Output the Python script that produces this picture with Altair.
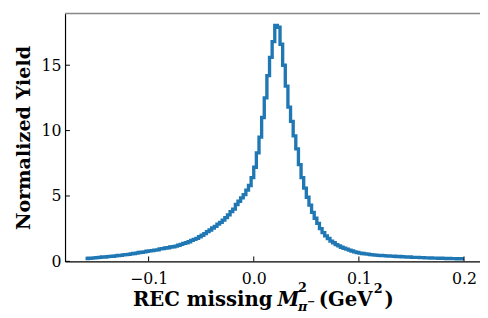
import altair as alt
import numpy as np
import pandas as pd

# Histogram: bin start, bin width and yields
bin_start = -0.16
bin_width = 0.0025
yields = [
    0.22, 0.24, 0.25, 0.27, 0.29,
    0.31, 0.33, 0.32, 0.36, 0.38, 0.39, 0.42, 0.45,
    0.46, 0.49, 0.52, 0.53, 0.57, 0.60, 0.63, 0.68,
    0.70, 0.72, 0.77, 0.80,
    0.82, 0.86, 0.88, 0.95,
    0.97, 1.02, 1.04, 1.10,
    1.12, 1.17, 1.23, 1.30,
    1.37, 1.42, 1.50, 1.60,
    1.68, 1.76, 1.88, 2.00,
    2.12, 2.27, 2.40, 2.55,
    2.68, 2.85, 2.98, 3.15,
    3.35, 3.55, 3.80, 4.00,
    4.35, 4.60, 4.85, 5.10,
    5.45, 5.80, 6.40, 7.20,
    8.30, 9.50, 11.0, 12.5,
    14.2, 15.6, 16.8, 18.05,
    17.9, 16.6, 15.0, 13.4,
    11.8, 10.7, 9.6, 8.6,
    7.4, 6.4, 5.6, 4.9,
    4.3, 3.75, 3.3, 2.9,
    2.5, 2.2, 1.95, 1.75,
    1.55, 1.42, 1.28, 1.18,
    1.08, 1.0, 0.93, 0.86,
    0.79, 0.72, 0.68, 0.63,
    0.60, 0.57, 0.55, 0.52,
    0.50, 0.48, 0.46, 0.45,
    0.44, 0.42, 0.41, 0.40,
    0.39, 0.37, 0.37, 0.35,
    0.34, 0.33, 0.33, 0.31,
    0.30, 0.30, 0.29, 0.28,
    0.27, 0.27, 0.26, 0.25,
    0.25, 0.24, 0.24, 0.23,
    0.22, 0.22, 0.21, 0.21,
    0.20, 0.20, 0.19,
]
x_ticks = [-0.1, 0.0, 0.1, 0.2]
y_ticks = [0, 5, 10, 15]
x_domain = [-0.1795, 0.2152]
y_domain = [0, 18.95]

n = len(yields)
edges = bin_start + bin_width * np.arange(n + 1)
hist = pd.DataFrame({"x": edges, "y": list(yields) + [yields[-1]]})

W, H = 422, 252
FONT = "DejaVu Serif"
xs = alt.Scale(domain=x_domain, nice=False, zero=False)
ys = alt.Scale(domain=y_domain, nice=False, zero=False)

x_axis = alt.Axis(values=x_ticks, format=".1f", title=None, ticks=False, tickSize=0,
                  labelPadding=10, labelFontSize=16, labelFont=FONT, grid=False,
                  domainColor="black", domainWidth=1.2, labelColor="black")
y_axis = alt.Axis(values=y_ticks, format="d", title="Normalized Yield", ticks=False, tickSize=0,
                  labelPadding=4, labelFontSize=16, labelFont=FONT, grid=False,
                  domainColor="black", domainWidth=1.2, labelColor="black",
                  titleFont=FONT, titleFontSize=19.5, titleFontWeight="bold",
                  titleX=-42, titleY=126, titleAlign="center", titleBaseline="middle",
                  titleAngle=270, titleColor="black")

line = alt.Chart(hist).mark_line(
    interpolate="step-after", color="#1f77b4", strokeWidth=3.4, clip=True
).encode(
    x=alt.X("x:Q", scale=xs, axis=x_axis),
    y=alt.Y("y:Q", scale=ys, axis=y_axis),
)

xt = alt.Chart(pd.DataFrame({"x": x_ticks})).mark_rule(color="black", strokeWidth=1).encode(
    x=alt.X("x:Q", scale=xs), y=alt.value(H), y2=alt.value(H - 5))
yt = alt.Chart(pd.DataFrame({"y": y_ticks})).mark_rule(color="black", strokeWidth=1).encode(
    y=alt.Y("y:Q", scale=ys), x=alt.value(0), x2=alt.value(5))
top = alt.Chart(pd.DataFrame({"v": [0]})).mark_rule(color="#888888", strokeWidth=1.5).encode(
    x=alt.value(0), x2=alt.value(W), y=alt.value(0))

one = pd.DataFrame({"v": [0]})
def txt(s, x, y, size=20, style="normal", weight="bold"):
    return alt.Chart(one).mark_text(
        text=s, x=x, y=y, align="left", baseline="alphabetic", font=FONT,
        fontSize=size, fontStyle=style, fontWeight=weight, color="black")

title_parts = [
    txt("REC missing", 69, 297),
    txt("M", 216, 297, style="italic"),
    txt("2", 237, 283, size=13),
    txt("π", 237, 302, size=13, style="italic"),
    txt("−", 246, 296, size=10),
    txt("(GeV", 258, 297),
    txt("2", 314, 284, size=13),
    txt(")", 325, 297),
]

chart = alt.layer(line, xt, yt, top, *title_parts).properties(
    width=W, height=H,
    autosize=alt.AutoSizeParams(type="none"),
    padding={"left": 58, "top": 3, "right": 0, "bottom": 58},
    background="white",
).configure_view(stroke=None)

chart.save("out.html", embed_options={"renderer": "svg", "actions": False})
